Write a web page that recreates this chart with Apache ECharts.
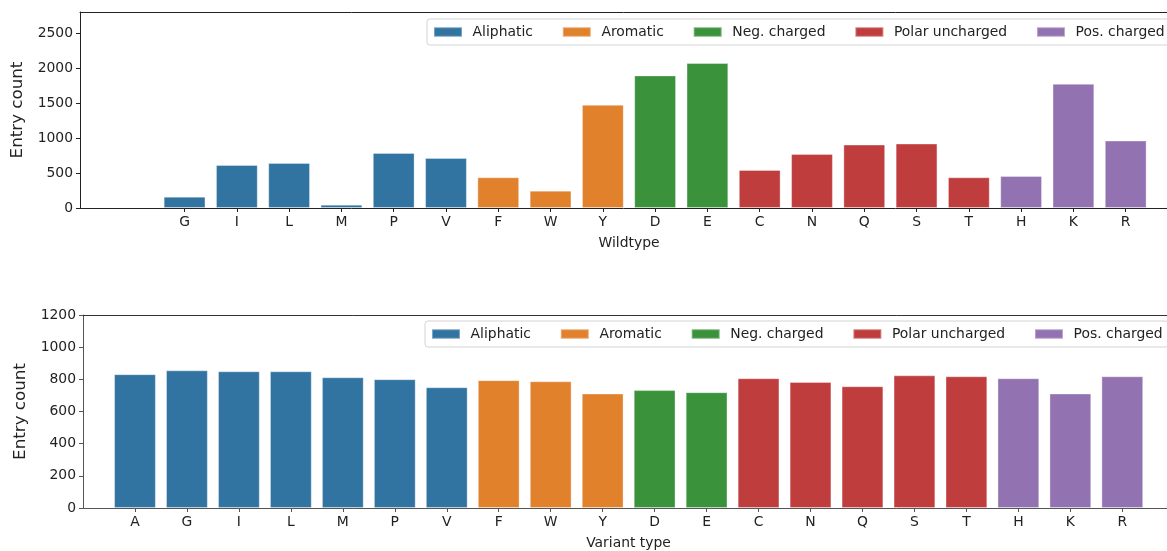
<!DOCTYPE html>
<html>
<head>
<meta charset="utf-8">
<script src="https://cdn.jsdelivr.net/npm/echarts@6/dist/echarts.min.js"></script>
<style>
html,body{margin:0;padding:0;background:#fff;}
#chart{width:1167px;height:551px;}
</style>
</head>
<body>
<div id="chart"></div>
<script>
const categories = ['A','G','I','L','M','P','V','F','W','Y','D','E','C','N','Q','S','T','H','K','R'];
const groupNames = ['Aliphatic','Aromatic','Neg. charged','Polar uncharged','Pos. charged'];
const groupOfCategory = [0,0,0,0,0,0,0,1,1,1,2,2,3,3,3,3,3,4,4,4];
const groupColors = ['#3274a1','#e1812c','#3a923a','#c03d3e','#9372b2'];
const wildtypeCounts = [null,162,615,644,48,787,716,439,248,1474,1894,2071,544,773,906,921,439,458,1775,964];
const variantCounts = [832,856,850,850,813,801,751,795,788,712,733,720,807,784,757,825,819,807,712,819];
const wildtypeYTicks = [0,500,1000,1500,2000,2500];
const variantYTicks = [0,200,400,600,800,1000,1200];
const xNames = ['Wildtype','Variant type'];
const yName = 'Entry count';

const FONT = 'DejaVu Sans';
const TXT = '#222';

function catIndices(values){
  const out=[]; values.forEach((v,i)=>{ if(v!==null && v!==undefined) out.push(i); }); return out;
}

function makeSeries(values, gi){
  return groupNames.map((name,g)=>({
    type:'bar', name, xAxisIndex:gi*2, yAxisIndex:gi,
    barWidth:41.8, barGap:'-100%',
    itemStyle:{color:groupColors[g], borderColor:'rgba(255,255,255,0.35)', borderWidth:1},
    emphasis:{disabled:true},
    data: values.map((v,i)=>[i,v]).filter((d,i)=>groupOfCategory[i]===g && d[1]!==null)
  }));
}

function xAxis(gi, values, lineColor, xmax, namePad){
  const ticks = catIndices(values);
  return {
    type:'value', gridIndex:gi, min:-1, max:xmax, position:'bottom',
    name:xNames[gi], nameLocation:'middle', nameGap:28,
    nameTextStyle:{fontFamily:FONT, fontSize:13.9, color:TXT, padding:[0,0,0,namePad]},
    axisLine:{show:true, onZero:false, lineStyle:{color:lineColor, width:1}},
    axisTick:{show:true, length:4, customValues:ticks, lineStyle:{color:lineColor}},
    axisLabel:{customValues:ticks, margin:7, fontFamily:FONT, fontSize:13.9, color:TXT,
      formatter:(v)=>categories[Math.round(v)]},
    splitLine:{show:false}
  };
}
function topSpine(gi, lineColor, xmax){
  return {
    type:'value', gridIndex:gi, min:-1, max:xmax, position:'top',
    axisLine:{show:true, onZero:false, lineStyle:{color:lineColor, width:1}},
    axisTick:{show:false}, axisLabel:{show:false}, splitLine:{show:false}
  };
}
function yAxis(gi, ticks, max, interval, lineColor){
  return {
    type:'value', gridIndex:gi, min:0, max:max, interval:interval,
    name:yName, nameLocation:'middle', nameGap:54,
    nameTextStyle:{fontFamily:FONT, fontSize:16.7, color:TXT},
    axisLine:{show:true, onZero:false, lineStyle:{color:lineColor, width:1}},
    axisTick:{show:true, length:4, customValues:ticks, lineStyle:{color:lineColor}},
    axisLabel:{customValues:ticks, margin:7, fontFamily:FONT, fontSize:13.9, color:TXT,
      formatter:(v)=>String(v)},
    splitLine:{show:false}
  };
}
function legend(left, top){
  return {
    data:groupNames, left:left, top:top, width:800, orient:'horizontal',
    icon:'rect', itemWidth:28, itemHeight:9.5, itemGap:28.9,
    padding:[6,6,6,6],
    backgroundColor:'rgba(255,255,255,0.8)', borderColor:'#d4d4d4', borderWidth:1, borderRadius:3,
    textStyle:{fontFamily:FONT, fontSize:13.9, color:TXT, padding:[0,0,0,5.6]},
    selectedMode:false
  };
}

const chart = echarts.init(document.getElementById('chart'), null, {renderer:'canvas'});
chart.setOption({
  animation:false,
  backgroundColor:'#fff',
  grid:[
    {left:80, right:0, top:12, bottom:343},
    {left:83, right:0, top:315, bottom:42}
  ],
  xAxis:[
    xAxis(0, wildtypeCounts, '#222', 19.79, 11), topSpine(0, '#222', 19.79),
    xAxis(1, variantCounts, '#555', 19.86, 7), topSpine(1, '#333', 19.86)
  ],
  yAxis:[yAxis(0, wildtypeYTicks, 2800, 500, '#222'), yAxis(1, variantYTicks, 1200, 200, '#555')],
  legend:[legend(427,19), legend(425,321)],
  series:[...makeSeries(wildtypeCounts,0), ...makeSeries(variantCounts,1)]
});
</script>
</body>
</html>
